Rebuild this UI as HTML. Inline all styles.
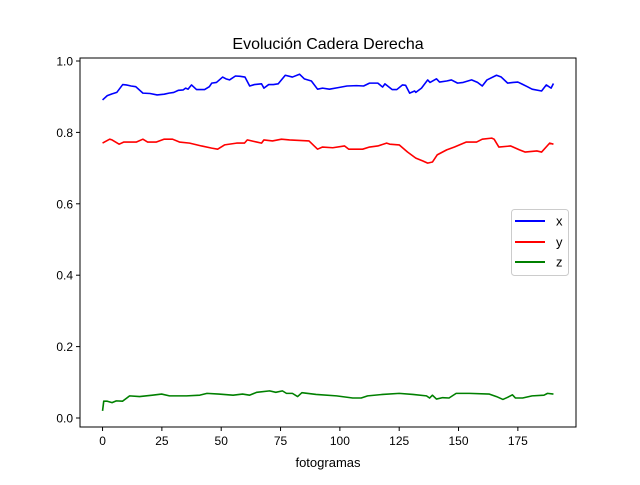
<!DOCTYPE html>
<html><head><meta charset="utf-8"><style>
body{margin:0;background:#fff;}
svg text{font-family:"Liberation Sans","DejaVu Sans",sans-serif;}
</style></head><body>
<svg id="chart" width="640" height="480" xmlns="http://www.w3.org/2000/svg">
<rect width="640" height="480" fill="#fff"/>
<text x="328" y="49" font-size="16" text-anchor="middle">Evolución Cadera Derecha</text>
<g id="plot"></g>
<rect x="80" y="58" width="496" height="369" fill="none" stroke="#000" stroke-width="1"/>
<g id="ticks"></g>
<text x="328" y="467" font-size="13" text-anchor="middle">fotogramas</text>
<g>
<rect x="511.5" y="209.5" width="57" height="66" rx="3" fill="#fff" fill-opacity="0.8" stroke="#ccc"/>
<line x1="515" y1="221" x2="545" y2="221" stroke="#0000ff" stroke-width="2"/>
<text x="556" y="225.5" font-size="13">x</text>
<line x1="515" y1="242" x2="545" y2="242" stroke="#ff0000" stroke-width="2"/>
<text x="556" y="246.5" font-size="13">y</text>
<line x1="515" y1="262" x2="545" y2="262" stroke="#008000" stroke-width="2"/>
<text x="556" y="266.5" font-size="13">z</text>
</g>
</svg>
<script>
const xFrames=[0,2,4,6,8.5,10,12,14,17,20,23,26,28,30,32,34,35,36,37.5,39.6,41,43,45,46,48,50.6,52,53.5,56,58,60,62,64,67,68,70,72,74,77,80,83,85,88,90.6,92.7,95.6,99,103,107,110,112.5,116,118,119,122,124,126.4,127.7,129.4,131.5,132,134.4,137,138,140.7,142,145,147,149.6,152,155.5,158,160,162,166,168,170.7,173,175,176.6,179,181,185,187,189,190];
const xVals=[0.891,0.903,0.908,0.912,0.934,0.933,0.930,0.928,0.910,0.909,0.905,0.907,0.910,0.912,0.918,0.919,0.924,0.921,0.933,0.920,0.920,0.920,0.928,0.938,0.940,0.955,0.950,0.947,0.958,0.957,0.955,0.930,0.934,0.936,0.924,0.934,0.934,0.936,0.960,0.955,0.963,0.950,0.944,0.921,0.924,0.921,0.925,0.930,0.931,0.930,0.938,0.938,0.927,0.936,0.920,0.920,0.933,0.932,0.910,0.916,0.912,0.924,0.947,0.940,0.950,0.941,0.944,0.947,0.938,0.940,0.947,0.940,0.930,0.947,0.960,0.955,0.938,0.940,0.941,0.936,0.928,0.921,0.916,0.933,0.924,0.937];
const yFrames=[0,3,4,7,9,14.3,17,19,22.7,26,29.5,32.4,36.7,41.7,46,48.5,51.4,56.5,59.8,61,65,67,68,71.6,75.4,78.8,87,90.6,92.7,97,102,103.7,109.6,112.5,116,119.7,121,125,128.5,132,135,137,139,141,145,148.3,153.3,157.6,160,164,165,167,172,175.7,178,183,185,188.4,190];
const yVals=[0.770,0.781,0.779,0.767,0.773,0.773,0.781,0.773,0.773,0.781,0.781,0.773,0.770,0.762,0.756,0.753,0.765,0.770,0.770,0.779,0.773,0.770,0.779,0.776,0.781,0.779,0.776,0.753,0.759,0.757,0.762,0.753,0.753,0.759,0.762,0.770,0.767,0.765,0.745,0.728,0.720,0.714,0.717,0.737,0.751,0.759,0.773,0.773,0.781,0.784,0.781,0.759,0.762,0.751,0.745,0.748,0.745,0.770,0.767];
const zFrames=[0,0.5,2,4,5.8,8.4,11.4,15.6,21,24.9,28.2,35.4,41,44,49,55,59,62,65,70.4,73,75.8,77.5,80,82.2,84,90,98.6,105.4,109,111.7,118,125,130.8,136.5,137.8,139,140.7,143.3,146,149,154.6,163,166,168.7,170.7,172.7,174,177,181,186,187.5,190];
const zVals=[0.020,0.047,0.047,0.043,0.048,0.047,0.062,0.060,0.064,0.067,0.062,0.062,0.064,0.069,0.067,0.064,0.067,0.064,0.072,0.076,0.072,0.076,0.069,0.069,0.060,0.071,0.066,0.062,0.056,0.056,0.062,0.066,0.069,0.066,0.062,0.056,0.064,0.053,0.057,0.056,0.069,0.069,0.067,0.060,0.052,0.058,0.065,0.056,0.056,0.062,0.064,0.069,0.067];
const xTicks=[0,25,50,75,100,125,150,175];
const yTicks=[0.0,0.2,0.4,0.6,0.8,1.0];
const xMin=-9.5,xMax=199.5,yMin=-0.0252,yMax=1.0084;
const L=80,R=576,T=58,B=427;
function sx(v){return L+(v-xMin)/(xMax-xMin)*(R-L);}
function sy(v){return B-(v-yMin)/(yMax-yMin)*(B-T);}
const NS='http://www.w3.org/2000/svg';
const plot=document.getElementById('plot');
function series(fr,vals,color,name){
  const p=document.createElementNS(NS,'polyline');
  p.setAttribute('points',fr.map((f,i)=>sx(f).toFixed(2)+','+sy(vals[i]).toFixed(2)).join(' '));
  p.setAttribute('fill','none');p.setAttribute('stroke',color);p.setAttribute('stroke-width','1.6');p.setAttribute('stroke-linejoin','round');
  
  
  plot.appendChild(p);
}
series(xFrames,xVals,'#0000ff','series-x-line');
series(yFrames,yVals,'#ff0000','series-y-line');
series(zFrames,zVals,'#008000','series-z-line');
const tk=document.getElementById('ticks');
xTicks.forEach(t=>{
  const x=sx(t);
  const l=document.createElementNS(NS,'line');
  l.setAttribute('x1',x);l.setAttribute('x2',x);l.setAttribute('y1',B);l.setAttribute('y2',B+4);l.setAttribute('stroke','#000');
  
  
  tk.appendChild(l);
  const s=document.createElementNS(NS,'text');
  s.setAttribute('x',x);s.setAttribute('y',B+18);s.setAttribute('font-size','12');s.setAttribute('text-anchor','middle');
  s.textContent=String(t);
  
  
  tk.appendChild(s);
});
yTicks.forEach(t=>{
  const y=sy(t);
  const l=document.createElementNS(NS,'line');
  l.setAttribute('x1',L-4);l.setAttribute('x2',L);l.setAttribute('y1',y);l.setAttribute('y2',y);l.setAttribute('stroke','#000');
  
  
  tk.appendChild(l);
  const s=document.createElementNS(NS,'text');
  s.setAttribute('x',L-7);s.setAttribute('y',y+4.5);s.setAttribute('font-size','12');s.setAttribute('text-anchor','end');
  s.textContent=t.toFixed(1);
  
  
  tk.appendChild(s);
});
</script>
</body></html>
